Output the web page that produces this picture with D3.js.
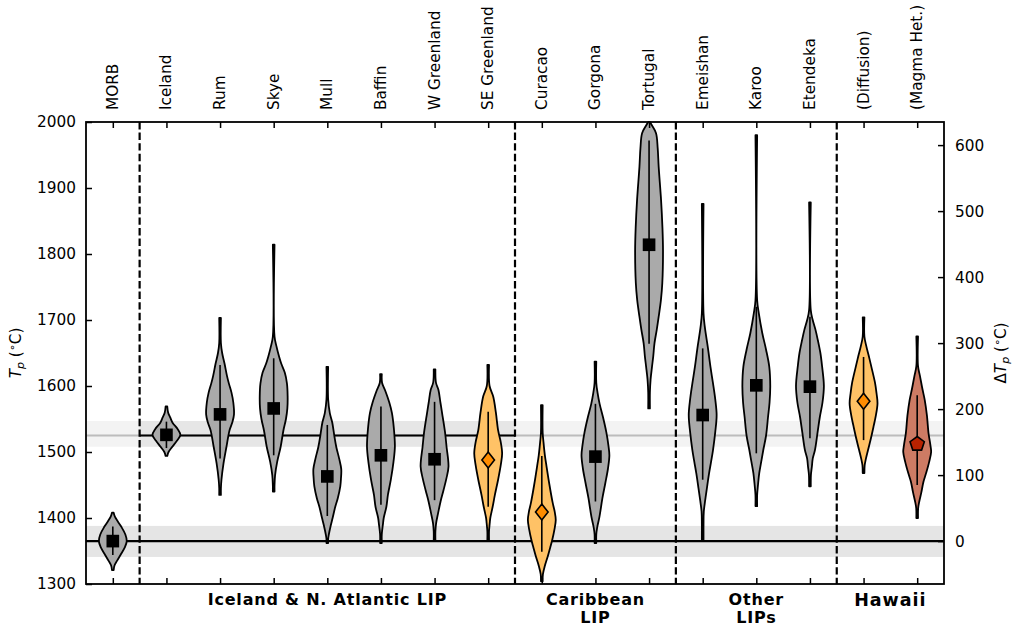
<!DOCTYPE html>
<html>
<head>
<meta charset="utf-8">
<script src="https://cdn.jsdelivr.net/npm/d3@7"></script>
<style>
  body { margin: 0; background: #fff; }
  svg text { font-family: "DejaVu Sans", sans-serif; }
</style>
</head>
<body>
<svg id="chart" width="1012" height="630"></svg>
<script>
// categories along the x axis
var categories = ["MORB", "Iceland", "Rum", "Skye", "Mull", "Baffin", "W Greenland", "SE Greenland",
                  "Curacao", "Gorgona", "Tortugal", "Emeishan", "Karoo", "Etendeka", "(Diffusion)", "(Magma Het.)"];

// marker value (Tp) and inner range line for each violin
var markerTp  = [1365, 1526, 1557, 1566, 1463, 1495, 1489, 1488, 1409, 1493, 1814, 1556, 1601, 1599, 1577, 1513];
var innerLow  = [1344, 1506, 1490, 1495, 1403, 1420, 1427, 1417, 1349, 1425, 1664, 1458, 1498, 1521, 1518, 1450];
var innerHigh = [1387, 1546, 1632, 1642, 1541, 1569, 1576, 1561, 1494, 1573, 1972, 1657, 1720, 1705, 1644, 1586];
var markerType = ["square", "square", "square", "square", "square", "square", "square", "diamond",
                  "diamond", "square", "square", "square", "square", "square", "diamond", "pentagon"];

// violin outlines: [Tp, relative density]
var profiles = [
  [[1408,.06],[1402,.15],[1395,.35],[1387,.6],[1375,.9],[1365,1],[1355,.85],[1344,.55],[1335,.3],[1328,.12],[1321,.06]],
  [[1569,.06],[1560,.12],[1552,.28],[1544,.45],[1535,.8],[1526,1],[1517,.75],[1508,.42],[1500,.15],[1494,.06]],
  [[1703,.06],[1665,.06],[1650,.15],[1634,.32],[1615,.5],[1604,.63],[1590,.82],[1575,.95],[1557,1],[1545,.88],[1533,.68],[1508,.46],[1483,.25],[1458,.1],[1445,.06],[1435,.06]],
  [[1814,.06],[1675,.06],[1660,.2],[1645,.38],[1634,.54],[1620,.8],[1604,.95],[1585,1],[1566,.98],[1550,.88],[1533,.7],[1508,.5],[1485,.25],[1465,.1],[1450,.06],[1440,.06]],
  [[1629,.06],[1580,.06],[1559,.18],[1545,.35],[1525,.5],[1508,.64],[1490,.85],[1474,1],[1460,.98],[1448,.93],[1430,.75],[1417,.57],[1400,.38],[1389,.25],[1374,.1],[1368,.06],[1362,.06]],
  [[1618,.06],[1605,.08],[1594,.29],[1575,.6],[1559,.79],[1535,.93],[1508,1],[1485,.9],[1458,.71],[1435,.5],[1417,.39],[1400,.2],[1390,.14],[1375,.06],[1362,.06]],
  [[1625,.06],[1605,.1],[1594,.28],[1575,.42],[1559,.54],[1530,.75],[1508,.86],[1478,1],[1460,.85],[1442,.64],[1425,.43],[1407,.25],[1392,.11],[1380,.06],[1365,.06]],
  [[1632,.06],[1600,.1],[1584,.36],[1560,.55],[1533,.71],[1515,.9],[1498,1],[1480,.9],[1458,.71],[1435,.48],[1417,.32],[1400,.15],[1392,.11],[1380,.06],[1367,.06]],
  [[1571,.06],[1530,.06],[1515,.12],[1495,.22],[1478,.34],[1450,.55],[1424,.77],[1410,.92],[1397,1],[1382,.9],[1367,.75],[1355,.6],[1342,.43],[1327,.21],[1315,.08],[1304,.06]],
  [[1637,.06],[1605,.06],[1590,.15],[1573,.3],[1553,.54],[1530,.78],[1510,.93],[1495,1],[1475,.9],[1453,.71],[1430,.5],[1402,.29],[1385,.12],[1375,.06],[1362,.06]],
  [[2000,.06],[1995,.2],[1983,.5],[1960,.62],[1932,.69],[1882,.86],[1840,.96],[1806,1],[1756,.95],[1730,.85],[1705,.69],[1685,.55],[1665,.39],[1645,.3],[1629,.21],[1610,.11],[1590,.06],[1566,.06]],
  [[1876,.06],[1710,.06],[1690,.15],[1657,.38],[1630,.55],[1604,.74],[1580,.9],[1556,1],[1530,.9],[1503,.74],[1485,.6],[1468,.46],[1445,.3],[1427,.18],[1410,.08],[1390,.06],[1367,.06]],
  [[1980,.06],[1730,.06],[1710,.18],[1680,.43],[1655,.7],[1629,.93],[1600,1],[1575,.95],[1553,.84],[1525,.7],[1503,.5],[1485,.35],[1468,.21],[1450,.12],[1435,.06],[1418,.06]],
  [[1878,.06],[1715,.06],[1700,.2],[1685,.4],[1670,.56],[1650,.75],[1630,.87],[1600,1],[1575,.9],[1553,.71],[1530,.55],[1503,.36],[1490,.2],[1478,.14],[1465,.07],[1448,.06]],
  [[1704,.06],[1675,.06],[1660,.2],[1645,.38],[1629,.56],[1605,.82],[1589,.93],[1574,1],[1555,.88],[1538,.71],[1520,.52],[1503,.32],[1490,.17],[1480,.08],[1468,.06]],
  [[1675,.06],[1630,.06],[1615,.2],[1595,.38],[1579,.54],[1555,.7],[1529,.81],[1510,.95],[1500,1],[1485,.86],[1468,.64],[1455,.45],[1438,.29],[1425,.15],[1415,.07],[1400,.06]]
];

// reference levels
var morbTp = 1365, morbBand = [1341, 1388];
var icelandTp = 1525, icelandBand = [1508, 1547];

var yTicks = [1300, 1400, 1500, 1600, 1700, 1800, 1900, 2000];
var dTicks = [0, 100, 200, 300, 400, 500, 600];

// group separators and labels
var dividers = [1.5, 8.5, 11.5, 14.5];
var groupLabels = [["Iceland & N. Atlantic LIP"], ["Caribbean", "LIP"], ["Other", "LIPs"], ["Hawaii"]];
var groupCenters = [5, 10, 13, 15.5];

var pLeft = 86, pRight = 944, pTop = 122, pBottom = 584;

var svg = d3.select('#chart');

var x = d3.scaleLinear().domain([0.5, categories.length + 0.5]).range([pLeft, pRight]);
var y = d3.scaleLinear().domain([1300, 2000]).range([pBottom, pTop]);
var yR = d3.scaleLinear().domain([1300 - morbTp, 2000 - morbTp]).range([pBottom, pTop]);

var fills = {square: "#aaaaaa", diamond: "#ffc266", pentagon: "#cd7b64"};
var markFill = {square: "#000", diamond: "#ff8c00", pentagon: "#b82200"};

// bands and reference lines
svg.append("rect")
  .attr("x", pLeft).attr("width", pRight - pLeft)
  .attr("y", y(icelandBand[1])).attr("height", y(icelandBand[0]) - y(icelandBand[1]))
  .attr("fill", "#f3f3f3");
svg.append("rect")
  .attr("x", x(dividers[0])).attr("width", x(dividers[1]) - x(dividers[0]))
  .attr("y", y(icelandBand[1])).attr("height", y(icelandBand[0]) - y(icelandBand[1]))
  .attr("fill", "#e6e6e6");
svg.append("line")
  .attr("x1", pLeft).attr("x2", pRight).attr("y1", y(icelandTp)).attr("y2", y(icelandTp))
  .attr("stroke", "#bcbcbc").attr("stroke-width", 2.2);
svg.append("line")
  .attr("x1", x(dividers[0])).attr("x2", x(dividers[1])).attr("y1", y(icelandTp)).attr("y2", y(icelandTp))
  .attr("stroke", "#000").attr("stroke-width", 2.2);

svg.append("rect")
  .attr("x", pLeft).attr("width", pRight - pLeft)
  .attr("y", y(morbBand[1])).attr("height", y(morbBand[0]) - y(morbBand[1]))
  .attr("fill", "#e5e5e5");
svg.append("line")
  .attr("x1", pLeft).attr("x2", pRight).attr("y1", y(morbTp)).attr("y2", y(morbTp))
  .attr("stroke", "#000").attr("stroke-width", 2.2);

// dashed group separators
svg.selectAll(".divider").data(dividers).enter().append("line")
  .attr("class", "divider")
  .attr("x1", function(d) { return x(d); }).attr("x2", function(d) { return x(d); })
  .attr("y1", pTop).attr("y2", pBottom)
  .attr("stroke", "#000").attr("stroke-width", 2.2)
  .attr("stroke-dasharray", "7.4,3.2");

// violins
var halfWidth = 0.26;
var violins = svg.selectAll(".violin").data(categories).enter().append("g").attr("class", "violin");

violins.append("path")
  .attr("d", function(c, i) {
    var area = d3.area()
      .y(function(d) { return y(d[0]); })
      .x0(function(d) { return x(i + 1 - halfWidth * d[1]); })
      .x1(function(d) { return x(i + 1 + halfWidth * d[1]); })
      .curve(d3.curveCatmullRom);
    return area(profiles[i]);
  })
  .attr("fill", function(c, i) { return fills[markerType[i]]; })
  .attr("stroke", "#000").attr("stroke-width", 1.8).attr("stroke-linejoin", "round");

violins.append("line")
  .attr("x1", function(c, i) { return x(i + 1); }).attr("x2", function(c, i) { return x(i + 1); })
  .attr("y1", function(c, i) { return y(innerHigh[i]); })
  .attr("y2", function(c, i) { return y(innerLow[i]); })
  .attr("stroke", "#000").attr("stroke-width", 1.6);

function markerPath(type) {
  if (type == "square") return d3.symbol().type(d3.symbolSquare).size(160)();
  if (type == "diamond") return "M0,-8L6.3,0L0,8L-6.3,0Z";
  // pentagon
  var pts = d3.range(5).map(function(k) {
    var a = -Math.PI / 2 + k * 2 * Math.PI / 5;
    return [7.5 * Math.cos(a), 7.5 * Math.sin(a) + 0.6];
  });
  return "M" + pts.join("L") + "Z";
}

violins.append("path")
  .attr("transform", function(c, i) { return "translate(" + x(i + 1) + "," + y(markerTp[i]) + ")"; })
  .attr("d", function(c, i) { return markerPath(markerType[i]); })
  .attr("fill", function(c, i) { return markFill[markerType[i]]; })
  .attr("stroke", "#000")
  .attr("stroke-width", function(c, i) { return markerType[i] == "square" ? 0 : 1.6; })
  .attr("stroke-linejoin", "miter");

// axes
var fontSize = "15.3px";
var idx = d3.range(1, categories.length + 1);

var gl = svg.append("g").attr("transform", "translate(" + pLeft + ",0)")
  .call(d3.axisLeft(y).tickValues(yTicks).tickSize(-6).tickPadding(10).tickFormat(d3.format("d")));
var gr = svg.append("g").attr("transform", "translate(" + pRight + ",0)")
  .call(d3.axisRight(yR).tickValues(dTicks).tickSize(-6).tickPadding(11).tickFormat(d3.format("d")));
var gt = svg.append("g").attr("transform", "translate(0," + pTop + ")")
  .call(d3.axisTop(x).tickValues(idx).tickSize(-6).tickFormat(""));
var gb = svg.append("g").attr("transform", "translate(0," + pBottom + ")")
  .call(d3.axisBottom(x).tickValues(idx).tickSize(-6).tickFormat(""));

[gl, gr, gt, gb].forEach(function(g) {
  g.select(".domain").remove();
  g.selectAll(".tick line").attr("stroke", "#000").attr("stroke-width", 1.5);
  g.selectAll("text").attr("font-size", fontSize).attr("fill", "#000")
    .attr("font-family", "DejaVu Sans, sans-serif");
});

// frame
svg.append("rect")
  .attr("x", pLeft).attr("y", pTop).attr("width", pRight - pLeft).attr("height", pBottom - pTop)
  .attr("fill", "none").attr("stroke", "#000").attr("stroke-width", 1.8);

// rotated category labels on top
svg.selectAll(".catlabel").data(categories).enter().append("text")
  .attr("class", "catlabel")
  .attr("transform", function(c, i) { return "translate(" + (x(i + 1) + 5) + ",110) rotate(-90)"; })
  .attr("font-size", fontSize)
  .text(function(c) { return c; });

// group labels below
groupLabels.forEach(function(lines, g) {
  var isHawaii = lines[0] == "Hawaii";
  var t = svg.append("text")
    .attr("x", x(groupCenters[g]))
    .attr("y", isHawaii ? 606 : 605)
    .attr("text-anchor", "middle")
    .attr("font-weight", "bold")
    .attr("font-size", isHawaii ? "17.5px" : "16px")
    .attr("letter-spacing", isHawaii ? "1px" : "0.8px");
  lines.forEach(function(l, k) {
    t.append("tspan").attr("x", x(groupCenters[g])).attr("dy", k == 0 ? 0 : 18).text(l);
  });
});

// y labels
function axisLabel(xpos, prefix) {
  var t = svg.append("text")
    .attr("transform", "translate(" + xpos + "," + ((pTop + pBottom) / 2) + ") rotate(-90)")
    .attr("text-anchor", "middle")
    .attr("font-size", fontSize);
  if (prefix) t.append("tspan").text(prefix);
  t.append("tspan").attr("font-style", "italic").text("T");
  t.append("tspan").attr("font-style", "italic").attr("font-size", "11px").attr("dy", 3).text("p");
  t.append("tspan").attr("dy", -3).text(" (");
  t.append("tspan").attr("font-size", "11px").attr("dy", -5).text("\u2218");
  t.append("tspan").attr("dy", 5).text("C)");
}
axisLabel(21, null);
axisLabel(1006, "\u0394");
</script>
</body>
</html>
